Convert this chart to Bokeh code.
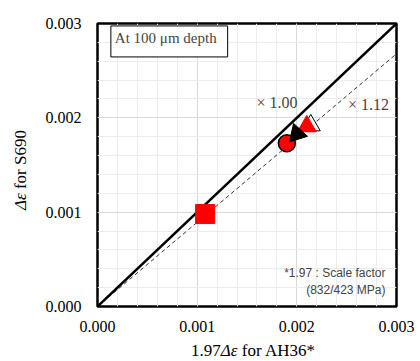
import numpy as np
from bokeh.plotting import figure
from bokeh.layouts import column, row
from bokeh.models import (Range1d, FixedTicker, NumeralTickFormatter, Label, Div)
from bokeh.embed import file_html
from bokeh.resources import INLINE

# Strain ranges: scaled AH36 (x) against S690 (y)
sq_x, sq_y = [0.00108], [0.00098]
circ_x, circ_y = [0.00190], [0.00173]
tri_black_x, tri_black_y = [0.00200], [0.00183]
tri_red_x, tri_red_y = [0.00210], [0.00191]
tri_open_x, tri_open_y = [0.00214], [0.00192]

ratio_equal = 1.00
ratio_fit = 1.12
axis_max = 0.003
major_ticks = [0.0, 0.001, 0.002, 0.003]

serif = "Liberation Serif"
sans = "Liberation Sans"

p = figure(width=380, height=334, output_backend="svg", toolbar_location=None,
           x_range=Range1d(0, axis_max), y_range=Range1d(0, axis_max),
           min_border_left=57, min_border_right=24, min_border_top=23,
           min_border_bottom=28)
p.background_fill_color = "white"
p.border_fill_color = "white"
# the frame outline doubles as the axis lines
p.outline_line_color = "black"
p.outline_line_width = 2.5

minor = list(np.round(np.arange(0, axis_max + 1e-9, 0.0002), 5))
for ax in (p.xaxis[0], p.yaxis[0]):
    ax.ticker = FixedTicker(ticks=major_ticks, minor_ticks=minor)
    ax.formatter = NumeralTickFormatter(format="0.000")
    ax.major_tick_line_color = None
    ax.minor_tick_line_color = None
    ax.axis_line_color = None
    ax.major_label_text_font_size = "16px"
    ax.major_label_text_font_style = "normal"
    ax.major_label_text_color = "black"
p.xaxis[0].major_label_text_font = serif
p.yaxis[0].major_label_text_font = "'Liberation Serif'"
p.xaxis[0].major_label_standoff = 8
p.yaxis[0].major_label_standoff = 10

for g in (p.xgrid[0], p.ygrid[0]):
    g.grid_line_color = "#d9d9d9"
    g.grid_line_width = 1
    g.minor_grid_line_color = "#ececec"
    g.minor_grid_line_width = 1

# Reference lines through the origin
line_x = [0, axis_max]
p.line(line_x, [0, axis_max / ratio_fit], line_color="#333333", line_width=1,
       line_dash="4 3")
p.line(line_x, [0, axis_max / ratio_equal], line_color="black", line_width=2.5)

# Data points
p.scatter(tri_open_x, tri_open_y, marker="triangle", size=19,
          fill_color="white", line_color="black", line_width=1)
p.scatter(tri_red_x, tri_red_y, marker="triangle", size=19,
          fill_color="#ff0000", line_color="#ff0000")
p.scatter(circ_x, circ_y, marker="circle", size=17, fill_color="#ff0000",
          line_color="black", line_width=1.5)
p.scatter(tri_black_x, tri_black_y, marker="triangle", size=19, angle=0.3,
          fill_color="black", line_color="black")
p.scatter(sq_x, sq_y, marker="square", size=19, fill_color="#ff0000",
          line_color="#ff0000")

# Line annotations
for lx, ly, txt in ((0.00180, 0.00216, "\u00d7 1.00"),
                    (0.00272, 0.00214, "\u00d7 1.12")):
    p.add_layout(Label(x=lx, y=ly, text=txt, text_font=serif,
                       text_font_size="16px", text_font_style="normal",
                       text_align="center", text_baseline="middle"))

# Depth label box
p.add_layout(Label(x=0.00072, y=0.00281, text="At 100 \u03bcm depth",
                   text_font=serif, text_font_size="15px", text_align="center",
                   text_baseline="middle", border_line_color="black",
                   border_line_width=1, background_fill_color="white",
                   padding=[4, 11, 4, 11]))

# Scale factor note
p.add_layout(Label(x=0.00289, y=0.00035, text="*1.97 : Scale factor",
                   text_font=sans, text_font_size="12px", text_align="right",
                   text_baseline="middle"))
p.add_layout(Label(x=0.00289, y=0.00017, text="(832/423 MPa)",
                   text_font=sans, text_font_size="12px", text_align="right",
                   text_baseline="middle"))

# Axis titles (HTML so that the strain symbol can be italic)
title_css = ("position:absolute; white-space:nowrap; "
             "font-family:'Liberation Serif'; font-size:17px; color:black; "
             "line-height:1;")
x_title = Div(text=(f"<div style=\"{title_css} left:253px; top:16px; "
                    "transform:translate(-50%,-50%);\">"
                    "1.97<i>\u0394\u03b5</i> for AH36*</div>"),
              width=420, height=27, margin=0,
              styles={"position": "relative", "overflow": "visible"})
y_title = Div(text=(f"<div style=\"{title_css} left:20px; top:170px; "
                    "transform:translate(-50%,-50%) rotate(-90deg);\">"
                    "<i>\u0394\u03b5</i> for S690</div>"),
              width=40, height=334, margin=0,
              styles={"position": "relative", "overflow": "visible"})

layout = column(row(y_title, p, spacing=0, margin=0), x_title,
                spacing=0, margin=0)

open("out.html", "w").write(file_html(layout, INLINE))
